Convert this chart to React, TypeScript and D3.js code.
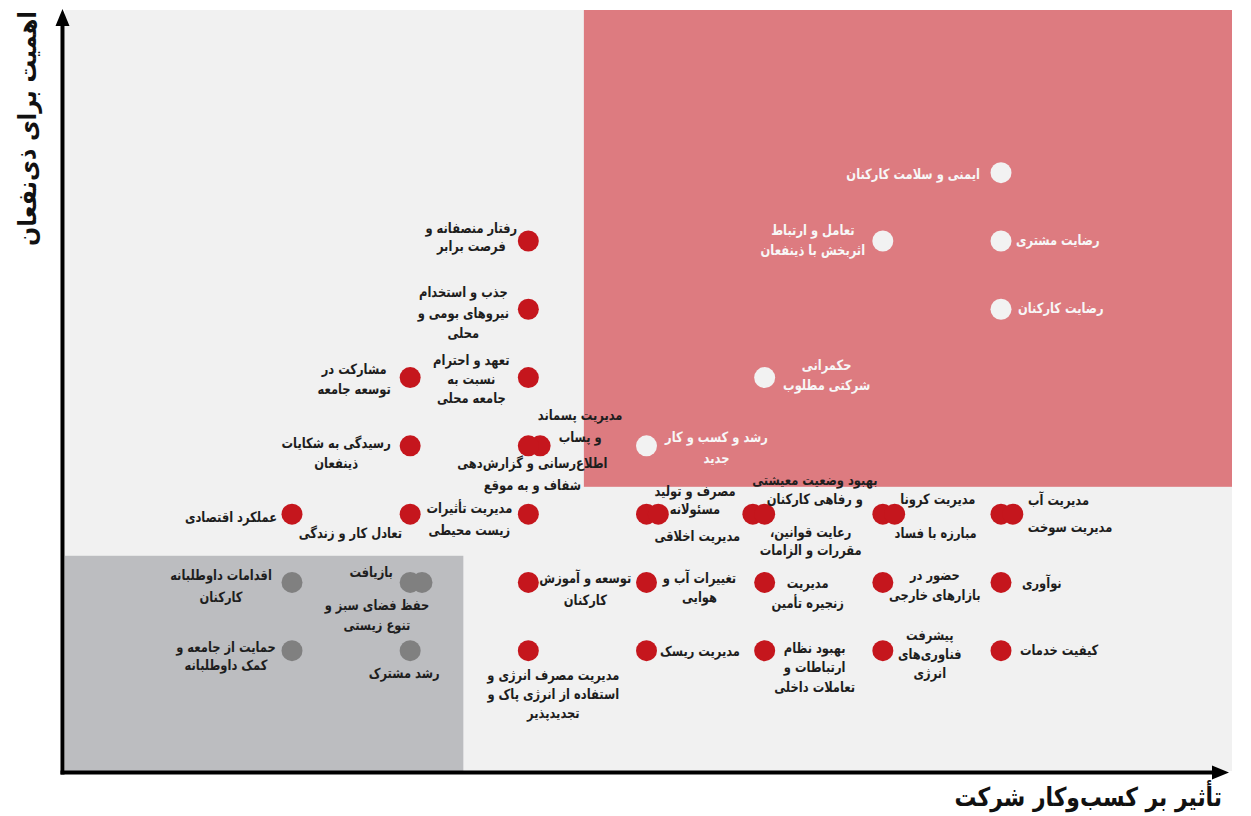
import React from "react";
import * as d3 from "d3";

// ---------- DATA ----------
const topics: string[][] = [
  ["ایمنی و سلامت کارکنان"],
  ["رضایت مشتری"],
  ["رضایت کارکنان"],
  ["تعامل و ارتباط", "اثربخش با ذینفعان"],
  ["حکمرانی", "شرکتی مطلوب"],
  ["رشد و کسب و کار", "جدید"],
  ["رفتار منصفانه و", "فرصت برابر"],
  ["جذب و استخدام", "نیروهای بومی و", "محلی"],
  ["تعهد و احترام", "نسبت به", "جامعه محلی"],
  ["مشارکت  در", "توسعه جامعه"],
  ["رسیدگی به شکایات", "ذینفعان"],
  ["عملکرد اقتصادی"],
  ["تعادل کار و زندگی"],
  ["مدیریت تأثیرات", "زیست محیطی"],
  ["مدیریت پسماند", "و پساب"],
  ["اطلاع‌رسانی و گزارش‌دهی", "شفاف و به موقع"],
  ["مصرف و تولید", "مسئولانه"],
  ["مدیریت اخلاقی"],
  ["بهبود وضعیت معیشتی", "و رفاهی کارکنان"],
  ["رعایت قوانین،", "مقررات و الزامات"],
  ["مدیریت کرونا"],
  ["مبارزه با فساد"],
  ["مدیریت آب"],
  ["مدیریت سوخت"],
  ["اقدامات داوطلبانه", "کارکنان"],
  ["حمایت از جامعه و", "کمک داوطلبانه"],
  ["بازیافت"],
  ["حفظ فضای سبز و", "تنوع زیستی"],
  ["رشد مشترک"],
  ["توسعه و آموزش", "کارکنان"],
  ["تغییرات آب و", "هوایی"],
  ["مدیریت مصرف انرژی و", "استفاده از انرژی پاک و", "تجدیدپذیر"],
  ["مدیریت ریسک"],
  ["مدیریت", "زنجیره تأمین"],
  ["حضور در", "بازارهای خارجی"],
  ["نوآوری"],
  ["بهبود نظام", "ارتباطات و", "تعاملات داخلی"],
  ["پیشرفت", "فناوری‌های", "انرژی"],
  ["کیفیت خدمات"],
];

// impact on business (x) and importance to stakeholders (y)
const impact: number[] = [
  7, 7, 7, 6, 5, 4, 3, 3, 3, 2, 2, 1, 2, 3, 3.1, 3, 4, 4.1, 4.9, 5, 6, 6.1, 7, 7.1,
  1, 1, 2, 2.1, 2, 3, 4, 3, 4, 5, 6, 7, 5, 6, 7,
];
const importance: number[] = [
  8, 7, 6, 7, 5, 4, 7, 6, 5, 5, 4, 3, 3, 3, 4, 4, 3, 3, 3, 3, 3, 3, 3, 3,
  2, 1, 2, 2, 1, 2, 2, 1, 1, 2, 2, 2, 1, 1, 1,
];
// tier: "high" (white), "medium" (red), "low" (grey)
const tier: string[] = [
  "high", "high", "high", "high", "high", "high",
  "medium", "medium", "medium", "medium", "medium", "medium", "medium", "medium",
  "medium", "medium", "medium", "medium", "medium", "medium", "medium", "medium",
  "medium", "medium",
  "low", "low", "low", "low", "low",
  "medium", "medium", "medium", "medium", "medium", "medium", "medium", "medium",
  "medium", "medium",
];

// quadrant thresholds (in data units)
const highZone = { x: 3.47, y: 3.4 };
const lowZone = { x: 2.45, y: 2.39 };

const xTitle = "تأثیر بر کسب‌وکار شرکت";
const yTitle = "اهمیت برای ذی‌نفعان";

// ---------- LAYOUT ----------
// label placement relative to dot: [dx, dy(first line centre), anchor, lineHeight]
type Anchor = "left" | "right" | "middle";
const labelLayout: [number, number, Anchor, number][] = [
  [-21, 1, "right", 20],
  [15, -1, "left", 20],
  [17, -1, "left", 20],
  [-70, -11, "middle", 20],
  [62, -12.5, "middle", 20],
  [70, -9, "middle", 21],
  [-57, -13, "middle", 18],
  [-65, -17, "middle", 20.5],
  [-57, -17.5, "middle", 19],
  [-56, -8.5, "middle", 20],
  [-74, -3, "middle", 20],
  [-15, 3, "right", 20],
  [-8, 19, "right", 20],
  [-59, -6, "middle", 22],
  [40, -31, "middle", 22],
  [4, 17, "middle", 22],
  [48.5, -23, "middle", 18],
  [39, 22, "middle", 18],
  [62, -34, "middle", 19],
  [46, 18, "middle", 18],
  [55, -15, "middle", 20],
  [41, 19, "middle", 20],
  [27, -14, "left", 20],
  [15, 13, "left", 20],
  [-71, -7, "middle", 22],
  [-66, -4, "middle", 18],
  [-39, -10, "middle", 20],
  [-45, 23, "middle", 20],
  [-6, 22, "middle", 20],
  [57, -4, "middle", 22],
  [53, -4, "middle", 19],
  [25, 24, "middle", 19],
  [13.5, 0, "left", 20],
  [43, 1, "middle", 20],
  [52, -7, "middle", 20],
  [21, 1, "left", 20],
  [50, -3, "middle", 19.5],
  [47, -16, "middle", 19],
  [19, -1, "left", 20],
];

const W = 1251;
const H = 816;
const FONT = "'DejaVu Sans', 'Noto Sans', sans-serif";
const LABEL_SIZE = 14;
const LABEL_SQUEEZE = 0.82;

const dotFill: Record<string, string> = { high: "#f2f2f2", medium: "#c5161d", low: "#808080" };
const labelFill: Record<string, string> = { high: "#f7f7f7", medium: "#1e1e1e", low: "#1e1e1e" };

export default function App() {
  const x = d3.scaleLinear().domain([1, 7]).range([292, 1001]);
  const y = d3.scaleLinear().domain([1, 8]).range([650.7, 172.7]);

  const plot = { left: 65, right: 1232, top: 10, bottom: 771 };
  const axisX = 62.5;
  const axisY = 772.5;

  const anchorFor = (a: Anchor) => (a === "middle" ? "middle" : a === "right" ? "start" : "end");

  return (
    <svg width={W} height={H} viewBox={`0 0 ${W} ${H}`} style={{ position: "absolute", left: 0, top: 0, fontFamily: FONT }}>
      <rect x={0} y={0} width={W} height={H} fill="#ffffff" />
      <rect x={plot.left} y={plot.top} width={plot.right - plot.left} height={plot.bottom - plot.top} fill="#f1f1f1" />
      <rect
        x={x(highZone.x)}
        y={plot.top}
        width={plot.right - x(highZone.x)}
        height={y(highZone.y) - plot.top}
        fill="#dd7b80"
      />
      <rect
        x={plot.left}
        y={y(lowZone.y)}
        width={x(lowZone.x) - plot.left}
        height={plot.bottom - y(lowZone.y)}
        fill="#bcbdc0"
      />

      {/* axes */}
      <line x1={axisX} y1={axisY + 2} x2={axisX} y2={22} stroke="#000" strokeWidth={4} />
      <polygon points={`${axisX - 7},26 ${axisX},9 ${axisX + 7},26`} fill="#000" />
      <line x1={axisX - 2} y1={axisY} x2={1215} y2={axisY} stroke="#000" strokeWidth={4} />
      <polygon points={`1212,${axisY - 7} 1229,${axisY} 1212,${axisY + 7}`} fill="#000" />

      {/* axis titles */}
      <g transform={`translate(28,128.5) rotate(-90) scale(0.9,1)`}>
        <text x={0} y={0} textAnchor="middle" dominantBaseline="central" fontSize={25} fontWeight="bold" fill="#111">
          {yTitle}
        </text>
      </g>
      <g transform={`translate(1222,797) scale(0.84,1)`}>
        <text x={0} y={0} textAnchor="end" dominantBaseline="central" fontSize={26} fontWeight="bold" fill="#111">
          {xTitle}
        </text>
      </g>

      {/* dots */}
      {topics.map((t, i) => (
        <circle key={"c" + i} cx={x(impact[i])} cy={y(importance[i])} r={10.5} fill={dotFill[tier[i]]} />
      ))}

      {/* labels */}
      {topics.map((lines, i) => {
        const [dx, dy, anchor, lh] = labelLayout[i];
        const cx = x(impact[i]) + dx;
        const cy = y(importance[i]) + dy;
        return (
          <g key={"t" + i} transform={`translate(${cx},0) scale(${LABEL_SQUEEZE},1) translate(${-cx},0)`}>
            <text
              direction="rtl"
              textAnchor={anchorFor(anchor)}
              fontSize={LABEL_SIZE}
              fontWeight="bold"
              fill={labelFill[tier[i]]}
            >
              {lines.map((ln, j) => (
                <tspan key={j} x={cx} y={cy + j * lh} dominantBaseline="central">
                  {ln}
                </tspan>
              ))}
            </text>
          </g>
        );
      })}
    </svg>
  );
}
